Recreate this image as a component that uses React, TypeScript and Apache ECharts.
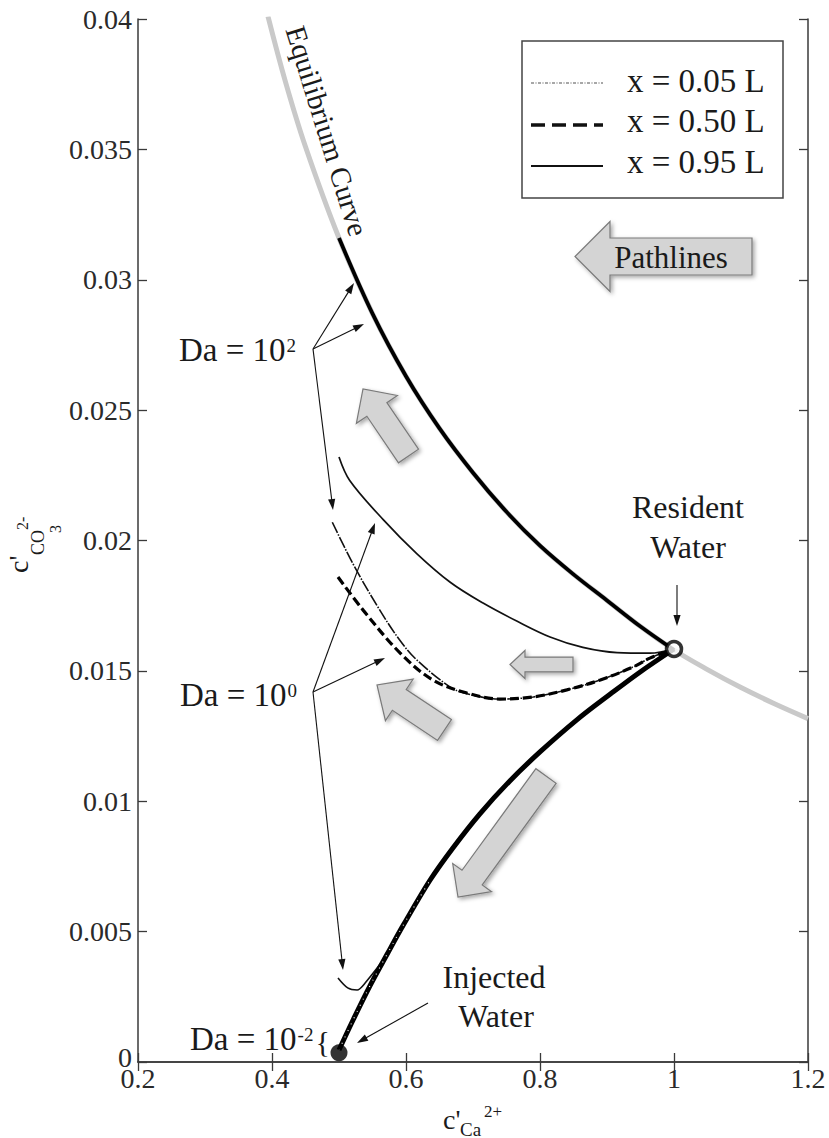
import React, { useEffect, useRef } from "react";
import * as echarts from "echarts";

// ---------- data ----------
const xTickLabels = ["0.2", "0.4", "0.6", "0.8", "1", "1.2"];
const yTickLabels = ["0", "0.005", "0.01", "0.015", "0.02", "0.025", "0.03", "0.035", "0.04"];

// Equilibrium curve (grey)
const eqCa = [0.394, 0.42, 0.45, 0.5, 0.55, 0.6, 0.65, 0.7, 0.75, 0.8, 0.85, 0.9, 0.95, 1.0, 1.05, 1.1, 1.15, 1.2];
const eqCO3 = [0.0401, 0.0376, 0.0351, 0.0316, 0.0287, 0.0263, 0.0243, 0.0226, 0.0211, 0.0198, 0.0187, 0.0177, 0.0167, 0.0158, 0.01505, 0.01436, 0.01374, 0.01317];

// Da = 10^2, x = 0.50 L and 0.95 L (on the equilibrium curve)
const da2UpCa = [0.5, 0.55, 0.6, 0.65, 0.7, 0.75, 0.8, 0.85, 0.9, 0.95, 1.0];
const da2UpCO3 = [0.0316, 0.0287, 0.0263, 0.0243, 0.0226, 0.0211, 0.0198, 0.0187, 0.0177, 0.0167, 0.0158];

// Da = 10^2, x = 0.05 L
const da2LowCa = [0.49, 0.521, 0.558, 0.59, 0.616, 0.666, 0.691, 0.74, 0.79, 0.84, 0.89, 0.939, 0.964, 1.0];
const da2LowCO3 = [0.0207, 0.0191, 0.01745, 0.0162, 0.01542, 0.01438, 0.01412, 0.01392, 0.014, 0.01427, 0.01465, 0.01515, 0.01549, 0.01584];

// Da = 10^0, x = 0.95 L
const da0TopCa = [0.5, 0.516, 0.566, 0.616, 0.666, 0.715, 0.766, 0.815, 0.864, 0.915, 0.964, 1.0];
const da0TopCO3 = [0.0232, 0.0223, 0.0208, 0.0195, 0.0184, 0.0176, 0.0169, 0.0163, 0.0159, 0.0157, 0.01568, 0.01584];

// Da = 10^0, x = 0.50 L
const da0MidCa = [0.4985, 0.536, 0.591, 0.64, 0.691, 0.74, 0.79, 0.84, 0.89, 0.939, 0.964, 1.0];
const da0MidCO3 = [0.0186, 0.01733, 0.01569, 0.01465, 0.01415, 0.01392, 0.014, 0.01427, 0.01465, 0.01515, 0.01549, 0.01584];

// Da = 10^0, x = 0.05 L (hook near the injected water)
const da0HookCa = [0.4985, 0.513, 0.527, 0.539, 0.572, 0.596, 0.636, 0.67, 0.71, 0.755, 0.8, 0.855, 0.905, 0.949, 1.0];
const da0HookCO3 = [0.00322, 0.00284, 0.00276, 0.00303, 0.00414, 0.00525, 0.00698, 0.00821, 0.00951, 0.01078, 0.01189, 0.01312, 0.01411, 0.01495, 0.01584];

// Da = 10^-2 (all three positions)
const daM2Ca = [0.5, 0.521, 0.546, 0.572, 0.596, 0.636, 0.67, 0.71, 0.755, 0.8, 0.855, 0.905, 0.949, 1.0];
const daM2CO3 = [0.00046, 0.00161, 0.00291, 0.00414, 0.00525, 0.00698, 0.00821, 0.00951, 0.01078, 0.01189, 0.01312, 0.01411, 0.01495, 0.01584];

const residentWater = [1.0, 0.01584];
const injectedWater = [0.5, 0.00035];

// ---------- helpers ----------
const FONT = "'Liberation Serif', 'Times New Roman', Times, serif";
const zip = (xs: number[], ys: number[]) => xs.map((x, i) => [x, ys[i]]);

let measureCtx: CanvasRenderingContext2D | null = null;
function measure(text: string, size: number) {
  if (!measureCtx) measureCtx = document.createElement("canvas").getContext("2d");
  if (!measureCtx) return text.length * size * 0.5;
  measureCtx.font = `${size}px ${FONT}`;
  return measureCtx.measureText(text).width;
}

function blockArrow(tail: number[], tip: number[], shaftHW: number, headHW: number, headLen: number) {
  const dx = tip[0] - tail[0], dy = tip[1] - tail[1];
  const L = Math.hypot(dx, dy);
  const ux = dx / L, uy = dy / L;
  const nx = -uy, ny = ux;
  const bx = tip[0] - ux * headLen, by = tip[1] - uy * headLen;
  const pts = [
    [tail[0] + nx * shaftHW, tail[1] + ny * shaftHW],
    [bx + nx * shaftHW, by + ny * shaftHW],
    [bx + nx * headHW, by + ny * headHW],
    [tip[0], tip[1]],
    [bx - nx * headHW, by - ny * headHW],
    [bx - nx * shaftHW, by - ny * shaftHW],
    [tail[0] - nx * shaftHW, tail[1] - ny * shaftHW],
  ];
  return {
    type: "polygon",
    z: 20,
    shape: { points: pts },
    style: {
      fill: "#d4d4d4",
      stroke: "#7a7a7a",
      lineWidth: 1.2,
      shadowBlur: 4,
      shadowColor: "rgba(0,0,0,0.35)",
      shadowOffsetX: 2,
      shadowOffsetY: 2,
    },
  };
}

function pointer(from: number[], to: number[]) {
  const dx = to[0] - from[0], dy = to[1] - from[1];
  const L = Math.hypot(dx, dy);
  const ux = dx / L, uy = dy / L;
  const nx = -uy, ny = ux;
  const hl = 11, hw = 3.6;
  const bx = to[0] - ux * hl, by = to[1] - uy * hl;
  return [
    {
      type: "line",
      z: 21,
      shape: { x1: from[0], y1: from[1], x2: bx + ux * 2, y2: by + uy * 2 },
      style: { stroke: "#111", lineWidth: 1.1 },
    },
    {
      type: "polygon",
      z: 21,
      shape: { points: [[to[0], to[1]], [bx + nx * hw, by + ny * hw], [bx - nx * hw, by - ny * hw]] },
      style: { fill: "#111" },
    },
  ];
}

function txt(text: string, x: number, y: number, size: number, align = "left", extra: any = {}) {
  return {
    type: "text",
    z: 22,
    x,
    y,
    ...extra,
    style: { text, fontSize: size, fontFamily: FONT, fill: "#1a1a1a", align, verticalAlign: "middle" },
  };
}

// "Da = 10" followed by a superscript exponent (and optional trailing text)
function daLabel(x: number, y: number, exp: string, trail?: string) {
  const main = "Da = 10";
  const w = measure(main, 33);
  const sx = x + w + 1;
  const items: any[] = [txt(main, x, y, 33), txt(exp, sx, y - 5, 19)];
  if (trail) items.push(txt(trail, sx + measure(exp, 19) + 2, y + 2, 30));
  return items;
}

export default function App() {
  const ref = useRef<HTMLDivElement>(null);

  useEffect(() => {
    document.body.style.margin = "0";
    if (!ref.current) return;
    const chart = echarts.init(ref.current, undefined, { renderer: "svg" });

    const axisLine = { show: true, lineStyle: { color: "#3a3a3a", width: 1.5 } };
    const axisTick = { show: true, inside: true, length: 9, lineStyle: { color: "#3a3a3a", width: 1.3 } };

    const lineBase = { type: "line", showSymbol: false, silent: true, clip: true, smooth: 0.35 };

    const graphics: any[] = [
      // legend
      { type: "rect", z: 19, shape: { x: 522, y: 41, width: 261, height: 157 }, style: { fill: "#fff", stroke: "#444", lineWidth: 1.5 } },
      { type: "line", z: 20, shape: { x1: 531, y1: 83, x2: 603, y2: 83 }, style: { stroke: "#8a8a8a", lineWidth: 1.3, lineDash: [3, 1.5, 1, 1.5] } },
      { type: "line", z: 20, shape: { x1: 531, y1: 125, x2: 603, y2: 125 }, style: { stroke: "#111", lineWidth: 3.5, lineDash: [14, 7] } },
      { type: "line", z: 20, shape: { x1: 531, y1: 166, x2: 603, y2: 166 }, style: { stroke: "#111", lineWidth: 1.8 } },
      txt("x = 0.05 L", 627, 81, 33),
      txt("x = 0.50 L", 627, 121, 33),
      txt("x = 0.95 L", 627, 162, 33),

      // block arrows
      blockArrow([752, 256.5], [575, 256.5], 18.5, 35, 35),
      txt("Pathlines", 671, 257, 31, "center"),
      blockArrow([408.5, 456], [363, 389], 12.1, 24.8, 24.7),
      blockArrow([573, 664.5], [510, 664.5], 7.3, 14, 15),
      blockArrow([444.5, 730], [377, 685], 12.5, 25, 26.8),
      blockArrow([546, 776], [458, 897], 12.5, 24, 24),

      // Equilibrium Curve label
      txt("Equilibrium Curve", 327, 131, 29, "center", { rotation: -1.27 }),

      // Da = 10^2
      ...daLabel(179, 350, "2"),
      ...pointer([313, 349], [354, 283]),
      ...pointer([313, 349], [364, 324]),
      ...pointer([313, 349], [333, 510]),

      // Da = 10^0
      ...daLabel(180, 695, "0"),
      ...pointer([313, 692], [375, 523]),
      ...pointer([313, 692], [385, 658]),
      ...pointer([313, 692], [343, 970]),

      // Da = 10^-2 {
      ...daLabel(190, 1039, "-2", "{"),

      // Resident water
      txt("Resident", 688, 507, 32, "center"),
      txt("Water", 688, 547, 32, "center"),
      ...pointer([677, 585], [677, 626]),

      // Injected water
      txt("Injected", 494, 977, 32, "center"),
      txt("Water", 496, 1016, 32, "center"),
      ...pointer([428, 1003], [357, 1043]),

      // x axis name: c'Ca2+
      txt("c'", 443, 1119, 28),
      txt("Ca", 460, 1129, 19),
      txt("2+", 484, 1111, 17),

      // y axis name: c'CO3 2- (rotated)
      txt("c'", 18, 573, 28, "left", { rotation: Math.PI / 2 }),
      txt("CO", 38, 555, 18, "left", { rotation: Math.PI / 2 }),
      txt("2-", 22, 530, 16, "left", { rotation: Math.PI / 2 }),
      txt("3", 55, 533, 16, "left", { rotation: Math.PI / 2 }),
    ];

    chart.setOption({
      animation: false,
      backgroundColor: "#fff",
      grid: { left: 138, right: 21, top: 19, bottom: 76 },
      xAxis: [
        {
          type: "value",
          min: 0.2,
          max: 1.2,
          interval: 0.2,
          position: "bottom",
          axisLine,
          axisTick,
          splitLine: { show: false },
          axisLabel: {
            margin: 2,
            fontSize: 28,
            fontFamily: FONT,
            color: "#2a2a2a",
            formatter: (v: number) => xTickLabels[Math.round((v - 0.2) / 0.2)] ?? "",
          },
        },
        {
          type: "value",
          min: 0.2,
          max: 1.2,
          interval: 0.2,
          position: "top",
          axisLine,
          axisTick,
          splitLine: { show: false },
          axisLabel: { show: false },
        },
      ],
      yAxis: [
        {
          type: "value",
          min: 0,
          max: 0.04,
          interval: 0.005,
          position: "left",
          axisLine,
          axisTick,
          splitLine: { show: false },
          axisLabel: {
            margin: 6,
            fontSize: 28,
            fontFamily: FONT,
            color: "#2a2a2a",
            formatter: (v: number) => {
              const i = Math.round(v / 0.005);
              const s = yTickLabels[i] ?? "";
              return i === 0 ? `{z|${s}}` : s;
            },
            rich: { z: { fontSize: 28, fontFamily: FONT, color: "#2a2a2a", padding: [0, 0, 9, 0] } },
          },
        },
        {
          type: "value",
          min: 0,
          max: 0.04,
          interval: 0.005,
          position: "right",
          axisLine,
          axisTick,
          splitLine: { show: false },
          axisLabel: { show: false },
        },
      ],
      series: [
        { ...lineBase, name: "Equilibrium", z: 1, data: zip(eqCa, eqCO3), lineStyle: { color: "#c9c9c9", width: 5 } },
        { ...lineBase, name: "Da=1e2 0.50L/0.95L", z: 3, data: zip(da2UpCa, da2UpCO3), lineStyle: { color: "#000", width: 3.8 } },
        { ...lineBase, name: "Da=1e2 0.05L", z: 3, data: zip(da2LowCa, da2LowCO3), lineStyle: { color: "#111", width: 1.6, type: [12, 1.5, 1.5, 1.5] } },
        { ...lineBase, name: "Da=1e0 0.95L", z: 3, data: zip(da0TopCa, da0TopCO3), lineStyle: { color: "#111", width: 1.7 } },
        { ...lineBase, name: "Da=1e0 0.50L", z: 4, data: zip(da0MidCa, da0MidCO3), lineStyle: { color: "#000", width: 3.2, type: [9, 4] } },
        { ...lineBase, name: "Da=1e0 0.05L", z: 3, smooth: 0.3, data: zip(da0HookCa, da0HookCO3), lineStyle: { color: "#111", width: 1.6 } },
        { ...lineBase, name: "Da=1e-2", z: 5, data: zip(daM2Ca, daM2CO3), lineStyle: { color: "#000", width: 5 } },
        { ...lineBase, name: "Da=1e-2 0.05L", z: 6, data: zip(daM2Ca.slice(0, 6), daM2CO3.slice(0, 6)), lineStyle: { color: "#fff", width: 1.1, type: [1, 6] } },
        {
          type: "scatter",
          name: "Resident Water",
          silent: true,
          z: 8,
          symbolSize: 15,
          data: [residentWater],
          itemStyle: { color: "#fff", borderColor: "#000", borderWidth: 3.5 },
        },
        {
          type: "scatter",
          name: "Injected Water",
          silent: true,
          z: 8,
          symbolSize: 17,
          data: [injectedWater],
          itemStyle: { color: "#000" },
        },
      ],
      graphic: graphics,
    });

    return () => chart.dispose();
  }, []);

  return <div ref={ref} style={{ width: 829, height: 1138, position: "fixed", left: 0, top: 0 }} />;
}
